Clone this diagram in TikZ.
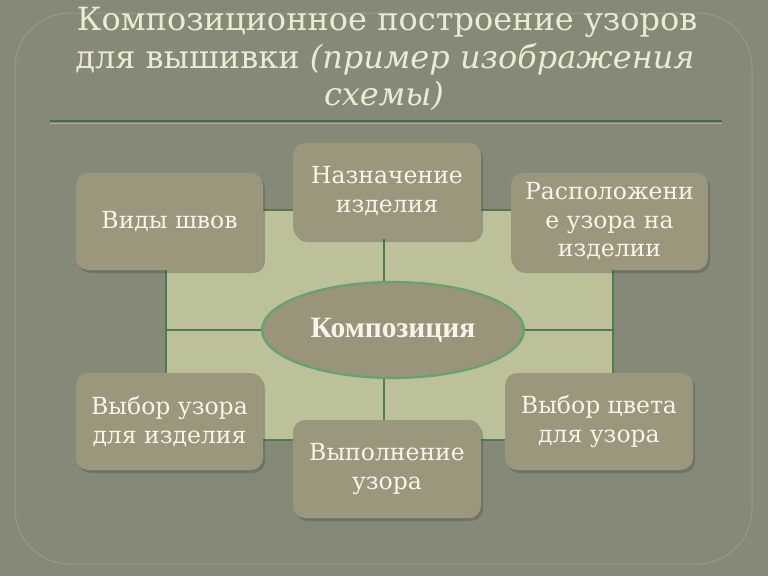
\documentclass[tikz,border=0pt]{standalone}
\usepackage{fontspec}
\setmainfont{DejaVu Serif}
\newfontfamily\ellfont{Liberation Serif}
\usetikzlibrary{shapes.geometric,shadows,backgrounds}
\definecolor{bgc}{HTML}{858977}
\definecolor{framec}{HTML}{979B87}
\definecolor{panelc}{HTML}{BCC199}
\definecolor{linec}{HTML}{4F7B50}
\definecolor{boxc}{HTML}{9B977D}
\definecolor{ellc}{HTML}{9A947A}
\definecolor{ellline}{HTML}{63A271}
\definecolor{titlec}{HTML}{EDEAD2}
\definecolor{boxtext}{HTML}{F6F4EC}
\definecolor{rulec}{HTML}{4A6A4C}
\tikzset{
  itembox/.style={draw=none, fill=boxc, rounded corners=12pt, text=boxtext,
    align=center, inner sep=1pt,
    font=\fontsize{23.5}{28.5}\selectfont,
    drop shadow={shadow xshift=2pt, shadow yshift=-3pt, opacity=0.35, fill=black!70}},
  gridline/.style={draw=linec, line width=2.2pt},
  titletext/.style={text=titlec, align=center, font=\fontsize{32}{38}\selectfont}
}
\begin{document}
\begin{tikzpicture}[x=1pt,y=-1pt]
\useasboundingbox (0,0) rectangle (768,576);

% title
\node[titletext, anchor=base] (t1) at (387,30) {Композиционное построение узоров};
\node[titletext, anchor=base] (t2) at (385,68) {для вышивки \textit{(пример изображения}};
\node[titletext, anchor=base] (t3) at (384,105) {\textit{схемы)}};
\coordinate (r1) at (50,121);
\coordinate (r2) at (722,121);

% panel geometry
\coordinate (cx) at (384,330);
\coordinate (pw) at (166,330);
\coordinate (pe) at (613,330);
\coordinate (pnw) at (166,210);
\coordinate (pse) at (613,440);

% center ellipse
\node[ellipse, fill=ellc, draw=ellline, line width=2.2pt, minimum width=262pt,
      minimum height=96pt, inner sep=0pt, text=boxtext,
      font=\ellfont\bfseries\fontsize{29.5}{32}\selectfont] (ell) at (393,330) {Композиция};

% boxes
\node[itembox, minimum width=187pt, minimum height=97pt] (a) at (169.5,221.5) {Виды швов};
\node[itembox, minimum width=188pt, minimum height=96pt] (b) at (387,191) {Назначение\\изделия};
\node[itembox, minimum width=197pt, minimum height=97pt] (c) at (609.5,221.5) {Расположени\\е узора на\\изделии};
\node[itembox, minimum width=187pt, minimum height=97pt] (d) at (169.5,421.5) {Выбор узора\\для изделия};
\node[itembox, minimum width=188pt, minimum height=98pt] (e) at (387,469) {Выполнение\\узора};
\node[itembox, minimum width=188pt, minimum height=97pt] (f) at (599,421.5) {Выбор цвета\\для узора};

\begin{pgfonlayer}{background}
  \fill[bgc] (0,0) rectangle (768,576);
  \draw[framec, line width=1pt, rounded corners=55pt] (15,13) rectangle (752,564);
  \draw[color=framec!80!white, line width=1pt] ([yshift=-2pt]r1) -- ([yshift=-2pt]r2);
  \draw[rulec, line width=2pt] (r1) -- (r2);
  \fill[panelc] (pnw) rectangle (pse);
  \draw[gridline] (pnw) rectangle (pse);
  \draw[gridline] (pnw -| cx) -- (pse -| cx);
  \draw[gridline] (pw) -- (pe);
\end{pgfonlayer}
\end{tikzpicture}
\end{document}
